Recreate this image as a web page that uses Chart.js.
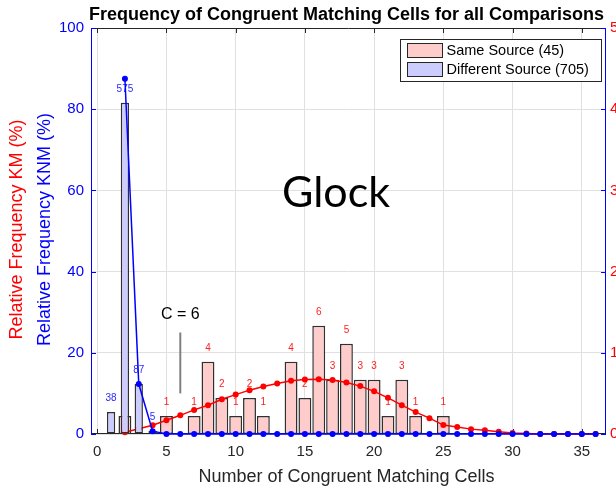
<!DOCTYPE html>
<html lang="en">
<head>
  <meta charset="UTF-8">
  <title>Frequency of Congruent Matching Cells</title>
  <script src="https://cdn.jsdelivr.net/npm/chart.js@4"></script>
  <style>
    html, body { margin: 0; padding: 0; background: #fff; overflow: hidden; }
  </style>
</head>
<body>
  <canvas id="cmcChart" width="616" height="488"></canvas>

  <script>
    // same source (KM) histogram: bin -> count
    const sameSourceX = [2, 5, 7, 8, 9, 10, 11, 12, 14, 15, 16, 17, 18, 19, 20, 21, 22, 23, 25];
    const sameSourceCounts = [1, 1, 1, 4, 2, 1, 2, 1, 4, 2, 6, 3, 5, 3, 3, 1, 3, 1, 1];

    // different source (KNM) histogram
    const diffSourceX = [1, 2, 3, 4];
    const diffSourceCounts = [38, 575, 87, 5];

    // fitted curves (percent)
    const fitX = [2, 3, 4, 5, 6, 7, 8, 9, 10, 11, 12, 13, 14, 15, 16, 17, 18, 19,
                  20, 21, 22, 23, 24, 25, 26, 27, 28, 29, 30, 31, 32, 33, 34, 35, 36];
    const sameSourceFit = [0.22, 0.65, 1.08, 1.69, 2.3, 2.97, 3.54, 4.28, 4.85, 5.4, 5.85, 6.22,
                           6.55, 6.7, 6.75, 6.65, 6.35, 5.9, 5.25, 4.45, 3.55, 2.7, 1.95, 1.1,
                           0.85, 0.6, 0.45, 0.28, 0.13, 0.05, 0, 0, 0, 0, 0];
    const diffSourceFit = [87.5, 12.3, 0.7, 0, 0, 0, 0, 0, 0, 0, 0, 0, 0, 0, 0, 0, 0, 0,
                           0, 0, 0, 0, 0, 0, 0, 0, 0, 0, 0, 0, 0, 0, 0, 0, 0];

    const xTicks = [0, 5, 10, 15, 20, 25, 30, 35];
    const leftTicks = [0, 20, 40, 60, 80, 100];
    const rightTicks = [0, 10, 20, 30, 40, 50];

    const sameTotal = sameSourceCounts.reduce((a, b) => a + b, 0);
    const diffTotal = diffSourceCounts.reduce((a, b) => a + b, 0);

    const FONT = 'Liberation Sans, Arial, sans-serif';
    const AXIS_DARK = '#262626';

    function toPoints(xs, ys) {
      return xs.map((x, i) => ({ x: x, y: ys[i] }));
    }

    const extras = {
      id: 'extras',
      afterDatasetDraw(chart, args) {
        const ds = chart.data.datasets[args.index];
        if (!ds.counts) return;
        const c = chart.ctx;
        c.save();
        c.font = '10px ' + FONT;
        c.fillStyle = ds.labelColor;
        c.textAlign = 'center';
        c.textBaseline = 'middle';
        args.meta.data.forEach((bar, i) => {
          c.fillText(String(ds.counts[i]), bar.x, bar.y - 13.5);
        });
        c.restore();
      },
      beforeDatasetsDraw(chart) {
        const c = chart.ctx;
        const a = chart.chartArea;
        const xs = chart.scales.x, ys = chart.scales.y;
        c.save();
        c.lineWidth = 1;
        // top and bottom box lines with inward ticks
        c.strokeStyle = AXIS_DARK;
        c.beginPath();
        c.moveTo(a.left, a.top + 0.5); c.lineTo(a.right, a.top + 0.5);
        c.moveTo(a.left, a.bottom - 0.5); c.lineTo(a.right, a.bottom - 0.5);
        xTicks.forEach(v => {
          const px = Math.round(xs.getPixelForValue(v)) + 0.5;
          c.moveTo(px, a.top); c.lineTo(px, a.top + 5);
          c.moveTo(px, a.bottom); c.lineTo(px, a.bottom - 5);
        });
        c.stroke();
        // left and right axis lines are blue
        c.strokeStyle = '#0000ff';
        c.beginPath();
        c.moveTo(a.left + 0.5, a.top); c.lineTo(a.left + 0.5, a.bottom);
        c.moveTo(a.right - 0.5, a.top); c.lineTo(a.right - 0.5, a.bottom);
        leftTicks.forEach(v => {
          const py = Math.round(ys.getPixelForValue(v)) + 0.5;
          c.moveTo(a.left, py); c.lineTo(a.left + 5, py);
          c.moveTo(a.right, py); c.lineTo(a.right - 5, py);
        });
        c.stroke();
        c.restore();
      },
      afterDraw(chart) {
        const c = chart.ctx;
        const a = chart.chartArea;
        const xs = chart.scales.x, ys = chart.scales.y;
        c.save();

        // title
        c.fillStyle = '#000';
        c.font = 'bold 18px ' + FONT;
        c.textAlign = 'center';
        c.textBaseline = 'alphabetic';
        c.fillText('Frequency of Congruent Matching Cells for all Comparisons', (a.left + a.right) / 2 - 2, 19.5);

        // x axis title
        c.fillStyle = AXIS_DARK;
        c.font = '18px ' + FONT;
        c.fillText('Number of Congruent Matching Cells', (a.left + a.right) / 2 - 2, 482);

        // y axis titles (two lines, red and blue)
        const midY = (a.top + a.bottom) / 2 - 1.5;
        c.save();
        c.translate(21.5, midY);
        c.rotate(-Math.PI / 2);
        c.fillStyle = '#ff0000';
        c.fillText('Relative Frequency KM (%)', 0, 0);
        c.restore();
        c.save();
        c.translate(50, midY);
        c.rotate(-Math.PI / 2);
        c.fillStyle = '#0000ff';
        c.fillText('Relative Frequency KNM (%)', 0, 0);
        c.restore();

        // big label
        c.fillStyle = '#000';
        c.font = '43px Lato, ' + FONT;
        c.fillText('Glock', xs.getPixelForValue(17.25), ys.getPixelForValue(56));

        // threshold marker
        c.font = '16px ' + FONT;
        const cx = xs.getPixelForValue(6);
        c.fillText('C = 6', cx, ys.getPixelForValue(28.4));
        c.strokeStyle = '#808080';
        c.lineWidth = 2;
        c.beginPath();
        c.moveTo(cx, ys.getPixelForValue(25));
        c.lineTo(cx, ys.getPixelForValue(10));
        c.stroke();

        // legend
        const lx = 400.5, ly = 39.5, lw = 201, lh = 42;
        c.fillStyle = '#fff';
        c.fillRect(lx, ly, lw, lh);
        c.strokeStyle = AXIS_DARK;
        c.lineWidth = 1;
        c.strokeRect(lx, ly, lw, lh);
        const items = [chart.data.datasets[3], chart.data.datasets[1]];
        c.font = '14.5px ' + FONT;
        c.textAlign = 'left';
        c.textBaseline = 'middle';
        items.forEach((ds, i) => {
          const sy = ly + 4 + i * 19;
          c.fillStyle = ds.backgroundColor;
          c.fillRect(lx + 7, sy, 35, 14);
          c.strokeStyle = AXIS_DARK;
          c.strokeRect(lx + 7, sy, 35, 14);
          c.fillStyle = '#000';
          c.fillText(ds.label, lx + 46, sy + 7.5);
        });

        c.restore();
      }
    };

    const ctx = document.getElementById('cmcChart').getContext('2d');
    new Chart(ctx, {
      type: 'bar',
      data: {
        datasets: [
          {
            type: 'line',
            label: 'KNM fit',
            data: toPoints(fitX, diffSourceFit),
            yAxisID: 'y',
            borderColor: '#0000ff',
            backgroundColor: '#0000ff',
            borderWidth: 1.5,
            pointRadius: 3,
            pointBorderWidth: 0,
            clip: false,
            order: 1
          },
          {
            type: 'bar',
            label: 'Different Source (' + diffTotal + ')',
            data: toPoints(diffSourceX, diffSourceCounts.map(n => n / diffTotal * 100)),
            counts: diffSourceCounts,
            labelColor: '#2a2aff',
            yAxisID: 'y',
            backgroundColor: '#ccccff',
            borderColor: '#303030',
            borderWidth: 1.5,
            borderSkipped: false,
            grouped: false,
            categoryPercentage: 1,
            barPercentage: 0.6,
            order: 2
          },
          {
            type: 'line',
            label: 'KM fit',
            data: toPoints(fitX, sameSourceFit),
            yAxisID: 'y2',
            borderColor: '#ff0000',
            backgroundColor: '#ff0000',
            borderWidth: 1.5,
            pointRadius: 3,
            pointBorderWidth: 0,
            clip: false,
            order: 3
          },
          {
            type: 'bar',
            label: 'Same Source (' + sameTotal + ')',
            data: toPoints(sameSourceX, sameSourceCounts.map(n => n / sameTotal * 100)),
            counts: sameSourceCounts,
            labelColor: '#ff2020',
            yAxisID: 'y2',
            backgroundColor: '#ffcccc',
            borderColor: '#303030',
            borderWidth: 1.5,
            borderSkipped: false,
            grouped: false,
            categoryPercentage: 1,
            barPercentage: 0.93,
            order: 4
          }
        ]
      },
      options: {
        responsive: false,
        animation: false,
        events: [],
        layout: { padding: { top: 28, left: 0, right: 0, bottom: 0 } },
        plugins: {
          legend: { display: false },
          tooltip: { enabled: false },
          title: { display: false }
        },
        scales: {
          x: {
            type: 'linear',
            min: -0.45,
            max: 36.75,
            offset: false,
            grid: { color: '#e0e0e0', drawTicks: false, offset: false },
            border: { display: false },
            ticks: {
              stepSize: 5,
              includeBounds: false,
              color: AXIS_DARK,
              font: { family: FONT, size: 15 },
              padding: 9,
              maxRotation: 0
            },
            afterFit: s => { s.height = 54; }
          },
          y: {
            position: 'left',
            min: 0,
            max: 100,
            grid: { color: '#e0e0e0', drawTicks: false },
            border: { display: false },
            ticks: {
              stepSize: 20,
              color: '#0000ff',
              font: { family: FONT, size: 15 },
              padding: 7
            },
            afterFit: s => { s.width = 91; }
          },
          y2: {
            position: 'right',
            min: 0,
            max: 50,
            grid: { display: false, drawTicks: false },
            border: { display: false },
            ticks: {
              stepSize: 10,
              color: '#ff0000',
              font: { family: FONT, size: 15 },
              padding: 4
            },
            afterFit: s => { s.width = 10; }
          }
        }
      },
      plugins: [extras]
    });
  </script>
</body>
</html>
